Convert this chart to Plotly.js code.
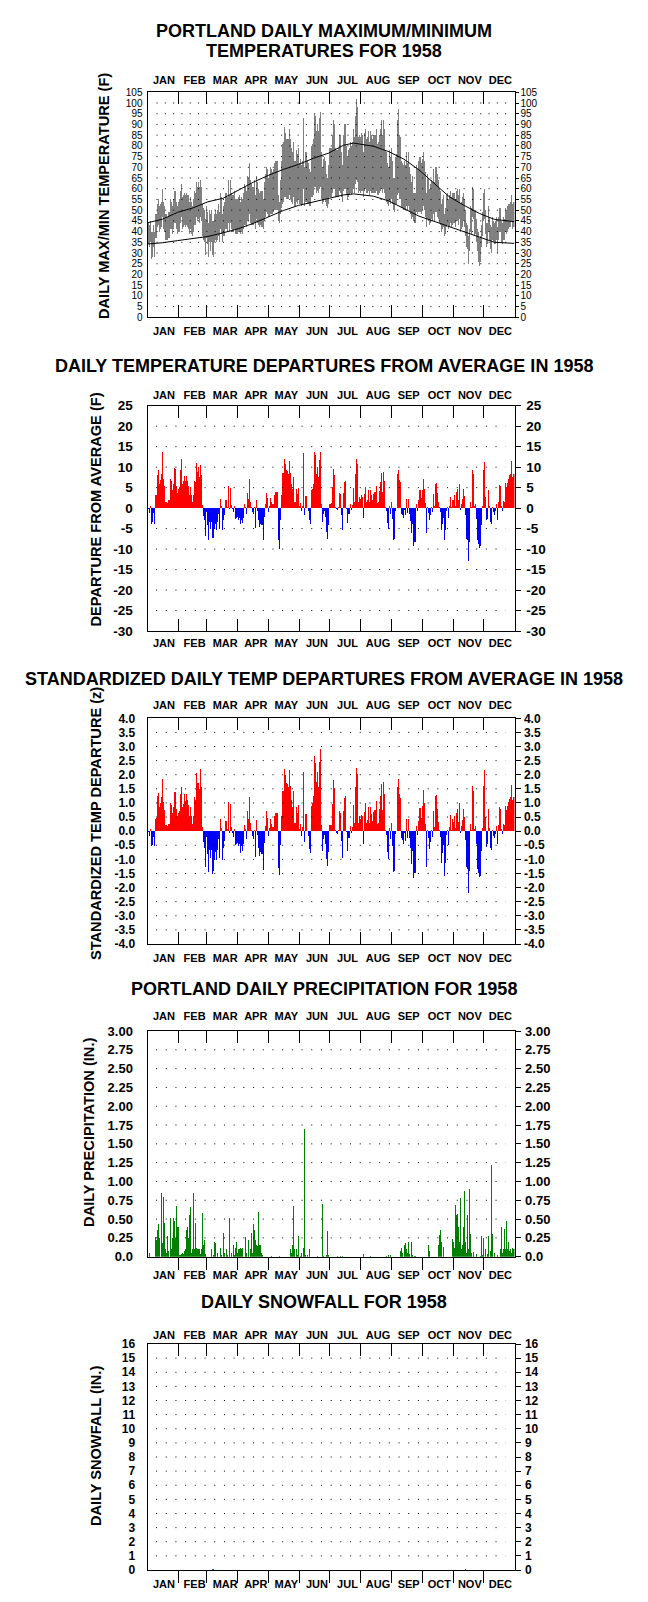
<!DOCTYPE html>
<html><head><meta charset="utf-8">
<script src="https://cdn.plot.ly/plotly-3.0.1.min.js"></script>
<style>html,body{margin:0;padding:0;background:#fff}#chart{width:648px;height:1602px}</style>
</head><body><div id="chart"></div>
<script>
// ---------- DATA ----------
const months = ['JAN','FEB','MAR','APR','MAY','JUN','JUL','AUG','SEP','OCT','NOV','DEC'];
const monthStarts = [0,31,59,90,120,151,181,212,243,273,304,334,365];

const tmax = [
44,43,45,40,40,43,40,48,48,53, 55,52,53,54,60,54,52,48,48,47, 49,49,55,54,52,55,59,59,54,52,
54,55,59,62,56,57,58,57,58,57, 57,54,56,54,52,55,59,58,63,61, 63,61,64,61,53,51,50,46,52,49,
44,50,48,50,45,45,48,50,48,50, 53,49,58,56,48,52,54,58,58,56, 64,57,64,58,57,57,59,55,55,55,
56,57,54,56,55,58,62,61,59,66, 65,72,64,62,61,61,64,57,66,63, 60,58,59,59,59,55,63,67,70,69,
65,67,70,69,68,69,72,73,73,73, 57,54,64,73,81,82,89,86,83,83, 83,88,83,79,77,82,73,73,78,76,
79,72,74,71,73,93,70,77,77,73, 72,69,68,80,81,83,95,94,87,90, 87,93,96,77,70,74,75,73,67,65,
71,79,79,85,92,90,79,78,78,79, 85,85,77,71,85,90,90,80,75,78, 79,82,80,82,88,84,94,102,98,84,
85,84,86,85,77,86,88,83,84,87, 82,87,85,83,85,85,85,88,81,82, 85,88,92,85,92,88,78,77,72,70,
78,75,79,73,65,65,75,76,92,97, 85,84,73,72,71,73,71,77,72,77, 70,67,63,66,58,58,58,71,69,73,
75,75,72,74,77,73,68,58,67,65, 60,62,64,63,69,63,70,70,67,64, 60,59,53,55,57,48,51,57,58,55,
57,59,56,58,58,58,55,59,60,57, 60,53,54,56,58,55,50,44,43,38, 41,52,51,61,60,50,50,46,41,40,
37,38,43,49,58,60,50,44,44,52, 47,43,42,47,45,44,45,47,42,47, 51,51,45,44,47,46,51,50,52,53,
53,54,57,53,54];

const tmin = [
34,33,35,27,28,33,28,37,37,42, 43,40,41,42,47,41,40,36,36,36, 37,37,41,41,39,41,44,44,41,39,
40,40,44,47,41,42,43,42,43,42, 41,39,41,39,38,40,43,43,47,45, 46,44,47,45,38,36,35,29,37,34,
28,35,31,35,29,28,35,36,35,36, 38,35,41,39,35,38,38,41,41,40, 44,40,44,41,40,40,41,39,39,39,
40,40,39,40,39,41,43,43,42,45, 45,48,44,43,43,43,44,41,46,44, 43,42,43,42,42,41,45,47,49,48,
47,47,48,48,48,49,50,50,50,50, 45,44,48,51,53,54,56,56,55,55, 55,57,55,54,53,56,52,52,54,53,
55,53,53,52,53,60,52,54,54,53, 53,52,52,56,56,57,61,61,58,59, 58,60,61,55,53,54,55,54,52,51,
53,56,56,58,60,60,56,56,56,56, 59,58,56,54,59,60,60,57,55,56, 57,58,57,58,60,58,62,64,63,58,
59,58,59,59,56,59,60,58,58,59, 57,59,58,58,58,58,58,59,57,57, 58,59,60,58,60,58,55,54,53,52,
54,53,55,53,50,49,53,53,57,58, 55,55,51,51,50,50,50,52,50,52, 49,48,46,47,45,44,44,49,48,49,
49,49,48,50,52,50,47,42,46,45, 43,44,46,45,48,45,49,49,47,46, 44,43,40,41,42,38,39,42,43,41,
42,44,42,43,44,44,42,45,45,43, 46,40,41,42,45,42,38,33,32,25, 31,40,39,47,46,38,39,35,31,26,
24,26,33,38,45,46,39,33,34,40, 36,32,30,36,35,34,34,36,30,36, 40,40,35,34,36,36,40,39,40,41,
42,42,45,41,42];

const normDays = [0,15,30,45,60,75,90,105,120,135,150,165,180,195,205,215,225,240,255,270,285,300,315,330,345,365];
const normMax  = [44.1,45.8,49.0,51.0,53.9,55.5,59.2,63.0,66.2,69.0,71.3,74.2,76.6,80.3,81.3,80.6,79.8,77.3,73.8,68.8,62.5,56.3,52.2,48.5,45.7,44.6];
const normMin  = [34.2,34.8,35.8,36.8,37.7,39.4,41.3,43.8,46.8,49.8,52.2,53.8,55.3,57.1,57.6,57.0,56.5,54.3,50.7,47.2,44.8,42.3,39.8,37.2,35.0,34.5];

const departure = [
-0.3,-1.2,0.6,-3.8,-3.5,-1.3,-3.8,3.1,3.3,8.1, 9.4,5.9,6.9,8.4,13.8,7.2,5.3,1.5,1.5,1.2,
1.9,1.9,7.0,6.6,4.5,5.9,9.8,9.6,5.5,3.7, 4.6,5.1,9.2,12.0,6.0,6.7,7.8,6.5,7.8,6.6,
5.5,3.2,5.1,3.1,1.6,3.1,6.7,6.3,11.1,8.8, 10.0,7.6,10.6,8.2,0.8,-2.0,-3.0,-6.8,-1.0,-4.2,
-7.9,-3.5,-5.0,-3.5,-7.3,-7.3,-5.0,-3.8,-5.4,-3.5, -1.5,-5.0,2.3,0.5,-5.3,-3.0,-1.8,1.9,1.9,0.3,
5.4,-0.3,5.0,0.8,-0.3,-1.0,0.4,-2.6,-2.4,-2.2, -2.8,-2.4,-4.0,-2.8,-3.7,-2.3,1.1,0.3,-1.4,3.7,
2.3,7.2,1.5,0.2,-0.9,-1.5,0.2,-4.8,2.0,-0.6, -3.0,-4.6,-3.8,-4.2,-4.2,-7.9,-2.2,1.0,3.7,2.5,
-1.0,0.6,2.5,1.5,0.9,0.9,3.3,3.9,3.9,3.9, -7.9,-9.9,-3.0,3.3,8.6,8.5,11.9,10.8,9.2,9.0,
8.4,11.6,8.6,5.9,4.6,7.6,1.5,1.5,4.7,3.5, 4.9,0.4,1.2,-0.8,0.6,13.5,-1.8,2.9,2.9,0.1,
-0.8,-3.0,-3.8,4.3,4.7,5.9,13.8,13.0,8.4,10.0, 7.5,11.8,13.8,1.0,-3.4,-1.4,-0.7,-2.2,-5.9,-7.5,
-4.2,1.1,1.2,
5.1,9.6,8.1,0.2,-0.3,-0.5,0.2,3.7,3.5,-1.8, -5.4,3.7,6.3,6.5,-0.2,-3.7,-1.4,-1.4,0.9,-0.4,
0.8,4.9,1.5,8.4,11.9,10.8,1.5,2.8,2.3,3.1, 2.7,-2.4,3.5,5.1,1.5,2.0,4.3,1.5,4.3,3.1,
1.9,3.5,3.9,3.9,5.5,1.2,1.5,4.1,6.3,8.5, 3.9,8.9,6.7,0.2,-0.6,-3.7,-5.0,0.6,-1.4,1.5,
-2.6,-7.7,-7.5,-0.6,0.1,8.4,9.2,6.9,6.3,-1.4, -1.6,-2.4,-0.4,-1.8,2.3,-1.2,2.3,-1.4,-3.2,-6.1,
-3.8,-9.3,-8.3,-8.3,0.9,-0.7,1.9,4.3,4.3,2.5, 4.3,7.0,4.7,1.2,-6.1,0.2,-1.2,-3.0,-1.8,0.2,
-1.0,3.5,0.6,5.9,6.1,3.7,1.5,0.2,-1.0,-5.4, -3.8,-2.4,-7.7,-5.4,-0.7,0.2,-2.4,0.6,2.8,0.2,
2.0,2.0,3.1,0.6,3.9,4.7,1.9,5.9,-0.4,1.1, 2.3,4.7,2.9,-1.8,-7.5,-7.9,-12.9,-8.3,1.5,0.2,
9.4,8.4,0.4,1.1,-2.6,-7.9,-8.7,-9.7,-9.3,-4.2, 0.6,9.4,11.2,2.8,-3.0,-2.6,4.5,0.6,-3.4,-4.0,
0.2,-1.0,-1.6,-0.7,1.1,-3.0,1.5,5.7,5.3,0.4, -0.6,1.7,1.5,6.1,5.1,6.2,7.2,8.0,8.4,11.5,
7.7,8.4];

const zDeparture = [
-0.04,-0.17,0.09,-0.54,-0.50,-0.19,-0.54,0.44,0.47,1.25, 1.34,0.84,0.99,1.20,1.85,1.03,0.76,0.21,0.21,0.17,
0.27,0.27,1.00,0.94,0.64,0.84,1.40,1.37,0.79,0.53, 0.66,0.73,1.31,1.57,0.86,0.96,1.30,1.08,1.30,1.10,
0.92,0.53,0.85,0.52,0.27,0.52,1.20,1.10,2.07,1.69, 1.71,1.51,2.22,1.55,0.16,-0.40,-0.60,-1.26,-0.20,-0.81,
-1.44,-0.67,-0.96,-0.67,-1.52,-1.40,-1.03,-0.73,-1.04,-0.67, -0.29,-0.96,0.44,0.10,-1.02,-0.58,-0.35,0.37,0.37,0.06,
1.04,-0.06,0.96,0.15,-0.06,-0.19,0.08,-0.50,-0.46,-0.42, -0.54,-0.46,-0.77,-0.54,-0.71,-0.44,0.21,0.06,-0.27,0.71,
0.44,1.20,0.29,0.04,-0.17,-0.29,0.04,-0.92,0.38,-0.12, -0.58,-0.88,-0.73,-0.81,-0.81,-1.38,-0.42,0.19,0.71,0.48,
-0.17,0.10,0.42,0.25,0.15,0.15,0.55,0.65,0.65,0.65, -1.32,-1.55,-0.50,0.55,1.43,1.42,2.20,2.00,1.70,1.67,
1.56,2.15,1.59,1.09,0.85,1.41,0.28,0.28,0.87,0.65, 0.91,0.08,0.25,-0.17,0.13,2.10,-0.38,0.60,0.60,0.02,
-0.17,-0.63,-0.79,0.90,0.98,1.23,2.65,2.40,1.75,2.08, 1.56,2.46,2.90,0.21,-0.71,-0.29,-0.15,-0.46,-1.00,-1.25,
-0.75,0.23,0.23,0.96,1.81,1.53,0.04,-0.06,-0.09,0.04, 0.70,0.66,-0.34,-0.96,0.70,1.19,1.23,-0.04,-0.70,-0.26,
-0.26,0.17,-0.08,0.15,0.92,0.28,1.58,2.25,2.04,0.28, 0.53,0.43,0.58,0.53,-0.47,0.69,1.00,0.29,0.39,0.84,
0.29,0.84,0.61,0.37,0.69,0.76,0.76,1.08,0.24,0.29, 0.80,1.24,1.67,0.76,1.75,1.31,0.04,-0.12,-0.73,-0.98,
0.12,-0.27,0.29,-0.51,-1.45,-1.42,-0.11,0.02,1.58,1.85, 1.30,1.19,-0.26,-0.30,-0.45,-0.08,-0.34,0.43,-0.23,0.43,
-0.26,-0.60,-1.15,-0.72,-1.65,-1.48,-1.48,0.17,-0.13,0.36, 0.81,0.81,0.47,0.90,1.46,0.98,0.25,-1.27,0.04,-0.25,
-0.63,-0.38,0.04,-0.21,0.73,0.13,1.23,1.27,0.77,0.31, 0.04,-0.21,-1.13,-0.79,-0.50,-1.60,-1.13,-0.15,0.04,-0.50,
0.13,0.58,0.04,0.42,0.34,0.53,0.10,0.66,0.80,0.32, 1.00,-0.07,0.19,0.39,0.80,0.49,-0.31,-1.27,-1.34,-2.19,
-1.41,0.25,0.03,1.59,1.42,0.07,0.19,-0.44,-1.34,-1.47, -1.64,-1.58,-0.71,0.10,1.59,2.15,0.50,-0.55,-0.47,0.80,
0.10,-0.58,-0.66,0.03,-0.16,-0.25,-0.11,0.17,-0.46,0.22, 0.84,0.78,0.06,-0.09,0.25,0.22,0.89,0.74,0.90,1.04,
1.14,1.20,1.65,1.10,1.20];

// [day index, inches] for days with measurable precipitation
const precipObs = [
[1,0.05],[7,0.26],[8,0.22],[9,0.35],[10,0.43],[11,0.25],[13,0.85],[14,0.18],[15,0.80],[16,0.45],[17,0.10],[18,0.05],
[19,0.27],[20,0.08],[22,0.51],[23,0.10],[24,0.25],[25,0.52],[26,0.47],[27,0.25],[28,0.67],[29,0.39],[30,0.39],[31,0.02],
[32,0.02],[33,0.03],[34,0.05],[35,0.03],[36,0.07],[37,0.10],[38,0.35],[39,0.40],[40,0.25],[41,0.55],[42,0.66],[43,0.05],
[44,0.10],[45,0.85],[46,0.10],[47,0.45],[48,0.12],[49,0.10],[50,0.10],[51,0.10],[52,0.03],[53,0.10],[54,0.58],[55,0.15],
[56,0.22],[57,0.03],[63,0.10],[65,0.02],[66,0.20],[67,0.18],[69,0.05],[72,0.12],[73,0.02],[75,0.31],[76,0.05],[78,0.10],
[79,0.02],[81,0.52],[83,0.05],[85,0.15],[86,0.02],[87,0.12],[88,0.20],[89,0.05],[90,0.10],[91,0.10],[92,0.12],[93,0.10],
[94,0.11],[97,0.26],[98,0.05],[100,0.22],[102,0.10],[103,0.31],[104,0.05],[105,0.44],[106,0.35],[107,0.22],[108,0.15],
[109,0.14],[110,0.59],[111,0.15],[112,0.15],[113,0.05],[114,0.02],[123,0.01],[131,0.01],[142,0.10],[143,0.05],[144,0.15],
[145,0.68],[146,0.10],[148,0.10],[149,0.02],[150,0.27],[152,0.01],[153,0.05],[155,0.11],[156,1.70],[157,0.02],[159,0.02],
[161,0.10],[169,0.01],[174,0.70],[175,0.01],[178,0.02],[179,0.34],[180,0.02],[188,0.01],[191,0.01],[193,0.01],[214,0.03],
[221,0.01],[237,0.01],[239,0.02],[241,0.02],[251,0.07],[252,0.12],[253,0.05],[255,0.15],[256,0.18],[257,0.10],[258,0.05],
[259,0.20],[260,0.03],[262,0.19],[263,0.02],[265,0.01],[266,0.01],[279,0.16],[280,0.08],[289,0.15],[290,0.29],[291,0.35],
[292,0.20],[294,0.13],[303,0.23],[304,0.20],[305,0.12],[306,0.69],[307,0.56],[308,0.57],[309,0.40],[310,0.20],[311,0.78],
[312,0.10],[313,0.16],[314,0.40],[315,0.87],[316,0.20],[317,0.05],[318,0.55],[319,0.10],[320,0.90],[321,0.30],[322,0.05],
[324,0.06],[327,0.04],[331,0.01],[332,0.28],[333,0.02],[334,0.25],[336,0.10],[338,0.03],[339,0.28],[341,0.08],[342,1.22],
[343,0.30],[345,0.05],[348,0.02],[351,0.10],[352,0.39],[353,0.05],[354,0.10],[355,0.37],[356,0.10],[357,0.47],[358,0.10],
[359,0.20],[360,0.08],[361,0.10],[362,0.05],[363,0.12],[364,0.10]];

const snowObs = [[64,0.1],[65,0.1],[316,0.05]];

const tempTicks = [0,5,10,15,20,25,30,35,40,45,50,55,60,65,70,75,80,85,90,95,100,105];
const depTicks = [-30,-25,-20,-15,-10,-5,0,5,10,15,20,25];
const zTicks = [-4,-3.5,-3,-2.5,-2,-1.5,-1,-0.5,0,0.5,1,1.5,2,2.5,3,3.5,4];
const precipTicks = [0,0.25,0.5,0.75,1,1.25,1.5,1.75,2,2.25,2.5,2.75,3];
const snowTicks = [0,1,2,3,4,5,6,7,8,9,10,11,12,13,14,15,16];

// ---------- LAYOUT ----------
const W = 648, H = 1602;
const F = 'Liberation Sans, Arial, Helvetica, sans-serif';
const py = p => 1 - p / H;
const xDom = [147.5 / W, 514.5 / W];
const dayX = i => i + 0.5;
const monthMid = months.map((m, i) => (i + 0.5) * 365 / 12 + 1.2);
const monthBounds = monthStarts.slice(1, 12);
const bold = s => '<b>' + s + '</b>';

const panels = [
  {top:92.3, bottom:317.3, range:[0,105], ticks:tempTicks, lab:v=>String(v), tsize:10, tbold:false,
   grid:tempTicks.filter(v=>v>0&&v<105), dot:'1px,7.3px', dx:[9,359],
   botTicks:'inside', lStand:2, rStand:0, rLen:3, xTop:5, xBot:3,
   title:['PORTLAND DAILY MAXIMUM/MINIMUM','TEMPERATURES FOR 1958'], titleY:[30.7,50.7],
   ytitle:'DAILY MAX/MIN TEMPERATURE (F)', ytx:104, yty:196},
  {top:405.7, bottom:631, range:[-30,25], ticks:depTicks, lab:v=>String(v), tsize:13.5, tbold:true,
   grid:depTicks.filter(v=>v!==0&&v>-30&&v<25), dot:'1px,8.7px', dx:[8.5,356],
   botTicks:'inside', lStand:11, rStand:3, rLen:5, xTop:4, xBot:2,
   title:['DAILY TEMPERATURE DEPARTURES FROM AVERAGE IN 1958'], titleY:[366.3],
   ytitle:'DEPARTURE FROM AVERAGE (F)', ytx:95.5, yty:509},
  {top:718.3, bottom:944, range:[-4,4], ticks:zTicks, lab:v=>v.toFixed(1), tsize:12, tbold:true,
   grid:zTicks.filter(v=>v!==0&&v>-4&&v<4), dot:'1px,8.7px', dx:[8.5,356],
   botTicks:'inside', lStand:9, rStand:1, rLen:5, xTop:6, xBot:4,
   title:['STANDARDIZED DAILY TEMP DEPARTURES FROM AVERAGE IN 1958'], titleY:[678.8],
   ytitle:'STANDARDIZED TEMP DEPARTURE (z)', ytx:95.5, yty:823.5},
  {top:1031, bottom:1256.7, range:[0,3], ticks:precipTicks, lab:v=>v===0?'0.0':v.toFixed(2), tsize:13, tbold:true,
   grid:precipTicks.filter(v=>v>0&&v<3), dot:'1px,8.7px', dx:[8.5,356],
   botTicks:'outside', lStand:11, rStand:2, rLen:5, xTop:8, xBot:8,
   title:['PORTLAND DAILY PRECIPITATION FOR 1958'], titleY:[988.8],
   ytitle:'DAILY PRECIPITATION (IN.)', ytx:88.4, yty:1132.5},
  {top:1344, bottom:1570, range:[0,16], ticks:snowTicks, lab:v=>String(v), tsize:12, tbold:true,
   grid:snowTicks.filter(v=>v>0&&v<16), dot:'1px,8.7px', dx:[8.5,356],
   botTicks:'outside', lStand:9, rStand:2, rLen:5, xTop:2, xBot:4,
   title:['DAILY SNOWFALL FOR 1958'], titleY:[1302],
   ytitle:'DAILY SNOWFALL (IN.)', ytx:95.5, yty:1445.5}
];

const layout = {
  width: W, height: H, autosize: false,
  margin: {l:0, r:0, t:0, b:0, pad:0},
  paper_bgcolor: '#fff', plot_bgcolor: '#fff',
  showlegend: false, bargap: 0, barmode: 'overlay',
  font: {family: F, color: '#000'},
  annotations: [], shapes: []
};

const key = (l, n) => l + 'axis' + (n === 1 ? '' : n);
const ref = (l, n) => l + (n === 1 ? '' : n);
const monthFont = {family: F, size: 11, color: '#000'};

panels.forEach((p, i) => {
  const na = 2 * i + 1, nb = 2 * i + 2;
  const xa = ref('x', na), ya = ref('y', na), xb = ref('x', nb), yb = ref('y', nb);
  p.xa = xa; p.ya = ya; p.xb = xb; p.yb = yb;
  const mt = months.map(bold);
  layout[key('x', na)] = {
    domain: xDom, range: [0, 365], anchor: ya, fixedrange: true,
    tickmode: 'array', tickvals: monthMid, ticktext: mt, ticks: '',
    showline: true, linecolor: '#000', linewidth: 1, mirror: true,
    showgrid: false, zeroline: false, tickfont: monthFont, ticklabelstandoff: p.xBot,
    minor: {tickmode: 'array', tickvals: monthBounds, ticks: p.botTicks, ticklen: 12,
            tickcolor: '#000', tickwidth: 1, showgrid: false}
  };
  layout[key('x', nb)] = {
    overlaying: xa, side: 'top', range: [0, 365], anchor: ya, fixedrange: true,
    tickmode: 'array', tickvals: monthMid, ticktext: mt, ticks: '',
    showline: false, showgrid: false, zeroline: false, tickfont: monthFont, ticklabelstandoff: p.xTop,
    minor: {tickmode: 'array', tickvals: monthBounds, ticks: 'inside', ticklen: 12,
            tickcolor: '#000', tickwidth: 1, showgrid: false}
  };
  const tt = p.ticks.map(v => p.tbold ? bold(p.lab(v)) : p.lab(v));
  const yf = {family: F, size: p.tsize, color: '#000'};
  layout[key('y', na)] = {
    domain: [py(p.bottom), py(p.top)], range: p.range, anchor: xa, fixedrange: true,
    tickmode: 'array', tickvals: p.ticks, ticktext: tt, ticks: '',
    showline: true, linecolor: '#000', linewidth: 1, mirror: true,
    showgrid: false, zeroline: false, tickfont: yf, ticklabelstandoff: p.lStand
  };
  layout[key('y', nb)] = {
    overlaying: ya, side: 'right', range: p.range, anchor: xa, fixedrange: true,
    tickmode: 'array', tickvals: p.ticks, ticktext: tt, ticks: 'outside', ticklen: p.rLen,
    tickcolor: '#000', tickwidth: 1,
    showline: false, showgrid: false, zeroline: false, tickfont: yf, ticklabelstandoff: p.rStand
  };
  p.grid.forEach(v => layout.shapes.push({
    type: 'line', xref: xa, yref: ya, x0: p.dx[0], x1: p.dx[1], y0: v, y1: v,
    line: {color: '#000', width: 1, dash: p.dot}, layer: 'above'
  }));
  p.title.forEach((t, k) => layout.annotations.push({
    text: bold(t), xref: 'paper', yref: 'paper', x: 324 / W, y: py(p.titleY[k]),
    xanchor: 'center', yanchor: 'middle', showarrow: false,
    font: {family: F, size: 18, color: '#000'}
  }));
  layout.annotations.push({
    text: bold(p.ytitle), xref: 'paper', yref: 'paper', x: p.ytx / W, y: py(p.yty),
    xanchor: 'center', yanchor: 'middle', showarrow: false, textangle: -90,
    font: {family: F, size: 14.6, color: '#000'}
  });
});

// ---------- TRACES ----------
const traces = [
  {type: 'bar', x: tmax.map((_, i) => dayX(i)), base: tmin, y: tmax.map((v, i) => v - tmin[i]),
   width: 1, marker: {color: '#808080', line: {width: 0}}, xaxis: panels[0].xa, yaxis: panels[0].ya, hoverinfo: 'skip'},
  {type: 'scatter', mode: 'lines', x: normDays, y: normMax, line: {color: '#000', width: 1},
   xaxis: panels[0].xa, yaxis: panels[0].ya, hoverinfo: 'skip'},
  {type: 'scatter', mode: 'lines', x: normDays, y: normMin, line: {color: '#000', width: 1},
   xaxis: panels[0].xa, yaxis: panels[0].ya, hoverinfo: 'skip'},
  {type: 'bar', x: departure.map((_, i) => dayX(i)), y: departure, width: 1,
   marker: {color: departure.map(v => v >= 0 ? '#ff0000' : '#0000ff'), line: {width: 0}},
   xaxis: panels[1].xa, yaxis: panels[1].ya, hoverinfo: 'skip'},
  {type: 'bar', x: zDeparture.map((_, i) => dayX(i)), y: zDeparture, width: 1,
   marker: {color: zDeparture.map(v => v >= 0 ? '#ff0000' : '#0000ff'), line: {width: 0}},
   xaxis: panels[2].xa, yaxis: panels[2].ya, hoverinfo: 'skip'},
  {type: 'bar', x: precipObs.map(o => dayX(o[0])), y: precipObs.map(o => o[1]), width: 1,
   marker: {color: '#008000', line: {width: 0}}, xaxis: panels[3].xa, yaxis: panels[3].ya, hoverinfo: 'skip'},
  {type: 'bar', x: snowObs.map(o => dayX(o[0])), y: snowObs.map(o => o[1]), width: 1,
   marker: {color: '#0070c0', line: {width: 0}}, xaxis: panels[4].xa, yaxis: panels[4].ya, hoverinfo: 'skip'}
];
// invisible helpers so the top month axes and right value axes get drawn
panels.forEach(p => {
  traces.push({type: 'scatter', mode: 'markers', x: [1], y: [p.range[0]], marker: {opacity: 0, size: 1},
               xaxis: p.xb, yaxis: p.ya, hoverinfo: 'skip', showlegend: false});
  traces.push({type: 'scatter', mode: 'markers', x: [1], y: [p.range[0]], marker: {opacity: 0, size: 1},
               xaxis: p.xa, yaxis: p.yb, hoverinfo: 'skip', showlegend: false});
});

Plotly.newPlot('chart', traces, layout, {staticPlot: true, displayModeBar: false});
</script>
</body></html>
